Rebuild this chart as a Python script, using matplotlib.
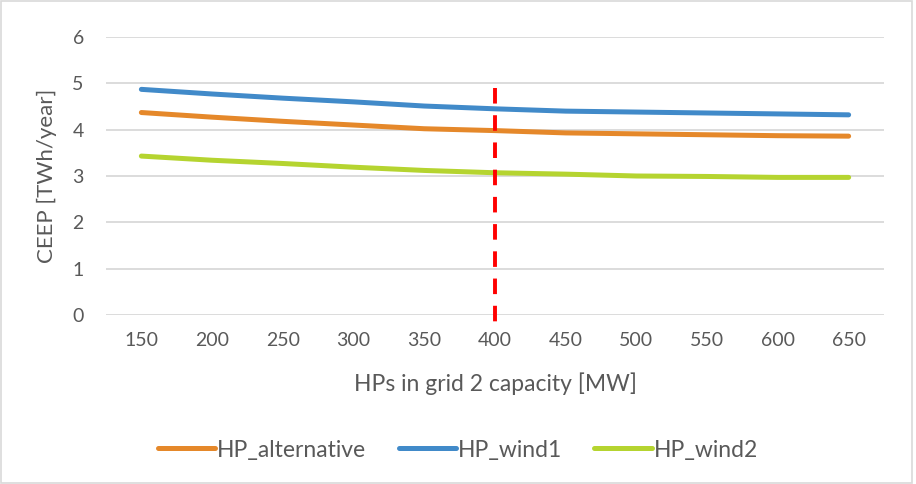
import matplotlib
matplotlib.use("Agg")
import matplotlib.pyplot as plt
from matplotlib.patches import Rectangle

# HP capacity in grid 2 [MW]
capacity = [150, 200, 250, 300, 350, 400, 450, 500, 550, 600, 650]

# CEEP [TWh/year] per scenario
hp_alternative = [4.37, 4.27, 4.18, 4.10, 4.02, 3.98, 3.93, 3.91, 3.89, 3.87, 3.86]
hp_wind1 = [4.87, 4.77, 4.68, 4.60, 4.51, 4.45, 4.40, 4.38, 4.36, 4.34, 4.32]
hp_wind2 = [3.43, 3.34, 3.27, 3.19, 3.12, 3.07, 3.04, 3.00, 2.99, 2.97, 2.97]

series_names = ["HP_alternative", "HP_wind1", "HP_wind2"]
series_colors = ["#E5882A", "#418AC9", "#B5D430"]

selected_capacity = 400
y_ticks = [0, 1, 2, 3, 4, 5, 6]

plt.rcParams["font.family"] = ["Lato", "DejaVu Sans"]
text_color = "#595959"

fig = plt.figure(figsize=(9.16, 4.84), dpi=100)
fig.patch.set_facecolor("white")
fig.patches.append(Rectangle((0.001, 0.002), 0.995, 0.995, transform=fig.transFigure,
                             fill=False, edgecolor="#D9D9D9", linewidth=1.2))

ax = fig.add_axes([106 / 916, 1 - 315 / 484, (884 - 106) / 916, (315 - 37) / 484])
ax.set_facecolor("white")

for vals, name, col in zip([hp_alternative, hp_wind1, hp_wind2], series_names, series_colors):
    ax.plot(capacity, vals, color=col, linewidth=3.6, solid_capstyle="round",
            solid_joinstyle="round", label=name, zorder=3)

# marker for the chosen capacity
ax.plot([selected_capacity, selected_capacity], [4.9, -0.26], color="#FF0000",
        linewidth=2.8, dashes=(4, 3), clip_on=False, zorder=4)

step = capacity[1] - capacity[0]
ax.set_xlim(capacity[0] - step / 2, capacity[-1] + step / 2)
ax.set_ylim(0, 6)
ax.set_xticks(capacity)
ax.set_xticklabels([str(c) for c in capacity])
ax.set_yticks(y_ticks)
ax.set_yticklabels([str(v) for v in y_ticks])
ax.grid(axis="y", color="#D9D9D9", linewidth=1.3, zorder=0)
ax.set_axisbelow(True)
for s in ax.spines.values():
    s.set_visible(False)
ax.tick_params(axis="both", length=0, labelsize=14, colors=text_color)
ax.tick_params(axis="x", pad=12)
ax.tick_params(axis="y", pad=16)

ax.set_xlabel("HPs in grid 2 capacity [MW]", fontsize=16.5, color=text_color)
ax.xaxis.set_label_coords(0.5, -(391 - 315) / (315 - 37), transform=ax.transAxes)
ax.xaxis.label.set_va("baseline")
ax.set_ylabel("CEEP [TWh/year]", fontsize=16, color=text_color)
ax.yaxis.set_label_coords(-(106 - 47) / (884 - 106), 0.5, transform=ax.transAxes)
ax.yaxis.label.set_va("center")

fig.legend(loc="center", bbox_to_anchor=(0.5, 1 - 450 / 484), ncol=3, frameon=False,
           fontsize=16.5, handlelength=2.5, handletextpad=0.1, columnspacing=1.4,
           labelcolor=text_color)

fig.savefig("out.png", dpi=100, facecolor="white")
